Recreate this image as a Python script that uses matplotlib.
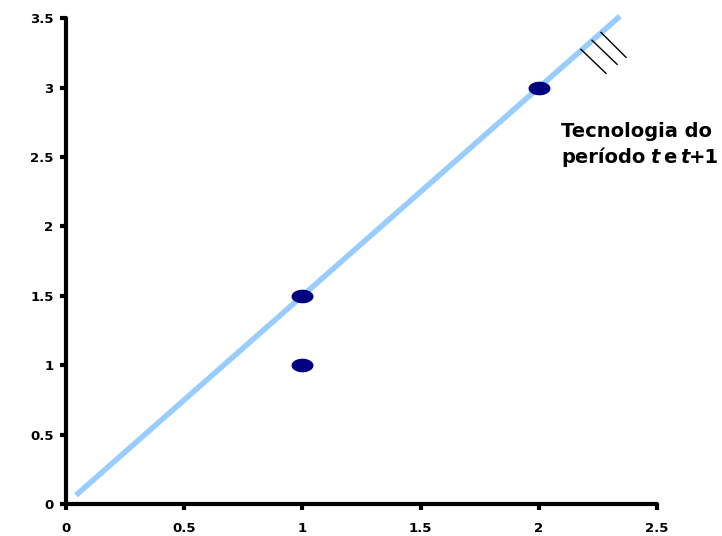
import matplotlib
matplotlib.use("Agg")
import matplotlib.pyplot as plt
import numpy as np
from matplotlib.path import Path

# Data
pts_x = [1, 1, 2]
pts_y = [1.5, 1.0, 3.0]
line_x = [0.042, 2.343]
slope = 1.5
hatch_start_x = [2.178, 2.225, 2.263]
hatch_start_y = [3.276, 3.341, 3.398]
hatch_end_x = [2.284, 2.331, 2.369]
hatch_end_y = [3.103, 3.168, 3.218]
xticks = [0, 0.5, 1, 1.5, 2, 2.5]
yticks = [0, 0.5, 1, 1.5, 2, 2.5, 3, 3.5]

plt.rcParams['font.family'] = ['DejaVu Sans']

fig = plt.figure(figsize=(7.22, 5.36), dpi=100)
ax = fig.add_axes([0.0914, 0.0597, 0.8186, 0.9063])

line_y = [slope * v for v in line_x]
ax.plot(line_x, line_y, color='#99CCFF', lw=4.0, solid_capstyle='butt', clip_on=False, zorder=2)

for xs, ys, xe, ye in zip(hatch_start_x, hatch_start_y, hatch_end_x, hatch_end_y):
    ax.plot([xs, xe], [ys, ye], color='black', lw=1.0, clip_on=False, zorder=3)

t = np.linspace(0, 2 * np.pi, 60)
verts = np.column_stack([np.cos(t), 0.62 * np.sin(t)])
ell = Path(verts)
ax.scatter(pts_x, pts_y, marker=ell, s=250, color='#000080', zorder=4, clip_on=False, linewidths=0)

ax.set_xlim(0, 2.5)
ax.set_ylim(0, 3.5)
ax.set_xticks(xticks)
ax.set_yticks(yticks)
tick_font = dict(family='DejaVu Sans', fontweight='bold', fontsize=9.5)
ax.set_xticklabels([f"{v:g}" for v in xticks], **tick_font)
ax.set_yticklabels([f"{v:g}" for v in yticks], **tick_font)
for s in ['top', 'right']:
    ax.spines[s].set_visible(False)
for s in ['left', 'bottom']:
    ax.spines[s].set_linewidth(3)
    ax.spines[s].set_capstyle('round')
ax.tick_params(direction='out', length=4, width=3)
ax.tick_params(axis='x', pad=9)
ax.tick_params(axis='y', pad=5)

fs = 14
gap = 2.5
tx = 561 / 722
t1 = fig.text(tx, 1 - 137 / 536, "Tecnologia do", fontsize=fs, fontweight='bold', ha='left', va='baseline')
t2 = fig.text(tx, 1 - 163 / 536, "período", fontsize=fs, fontweight='bold', ha='left', va='baseline')
kw = dict(fontsize=fs, fontweight='bold', ha='left', va='bottom', textcoords='offset points')
t3 = ax.annotate("t", xy=(1, 0), xycoords=t2, xytext=(gap + 1, 0), style='italic', **kw)
t4 = ax.annotate("e", xy=(1, 0), xycoords=t3, xytext=(gap, 0), **kw)
t5 = ax.annotate("t", xy=(1, 0), xycoords=t4, xytext=(gap, 0), style='italic', **kw)
t6 = ax.annotate("+1", xy=(1, 0), xycoords=t5, xytext=(0, 0), **kw)

fig.savefig("out.png", dpi=100)
